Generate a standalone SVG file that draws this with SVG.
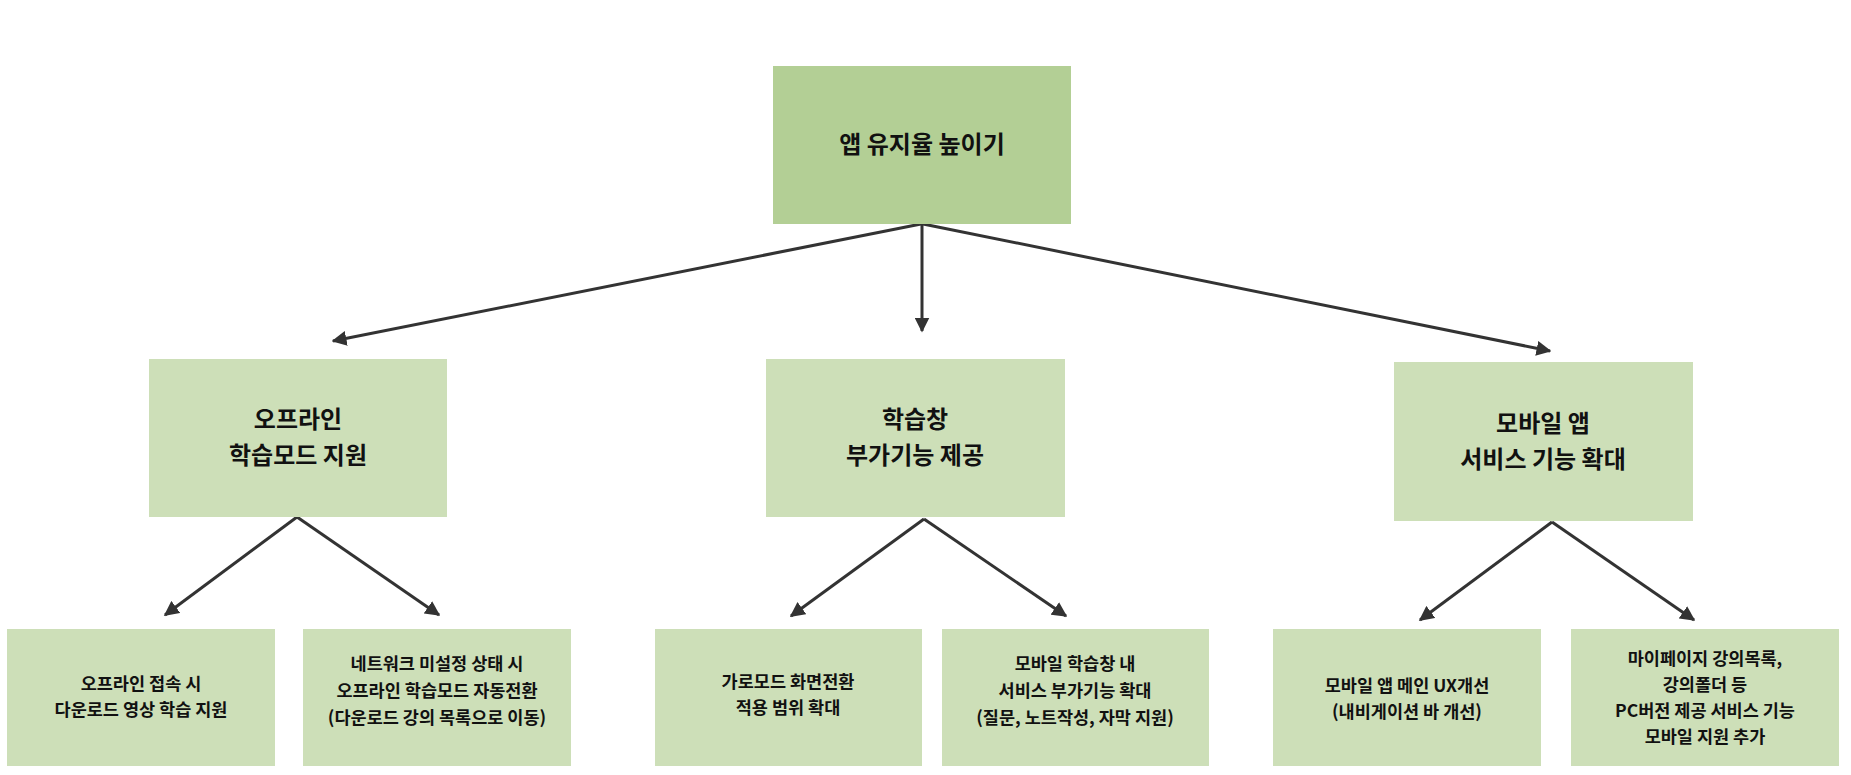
<svg xmlns="http://www.w3.org/2000/svg" width="1851" height="775" viewBox="0 0 1851 775">
<style>
.r{fill:#b3cf95}.n{fill:#cddfb8}
text{font-family:"Noto Sans CJK KR","Noto Sans",sans-serif;font-weight:bold;fill:#111;text-anchor:middle}
.t1{font-size:24px}.t2{font-size:17.5px}
.c{stroke:#333;stroke-width:3;fill:none;marker-end:url(#a)}
</style>
<defs><marker id="a" viewBox="0 0 10 10" refX="9" refY="5" markerWidth="5" markerHeight="5" orient="auto"><path d="M0,0L10,5L0,10z" fill="#333"/></marker></defs>
<g id="connectors">
<line class="c" x1="921" y1="224" x2="333" y2="341"/>
<line class="c" x1="922" y1="224" x2="922" y2="331"/>
<line class="c" x1="923" y1="224" x2="1550" y2="351"/>
<line class="c" x1="297" y1="517" x2="165" y2="615"/>
<line class="c" x1="297" y1="517" x2="439" y2="615"/>
<line class="c" x1="924" y1="519" x2="791" y2="616"/>
<line class="c" x1="924" y1="519" x2="1066" y2="616"/>
<line class="c" x1="1552" y1="522" x2="1420" y2="620"/>
<line class="c" x1="1552" y1="522" x2="1694" y2="620"/>
</g>
<g id="root"><rect class="r" x="773" y="66" width="298" height="158"/><text class="t1" x="922" y="153">앱 유지율 높이기</text></g>
<g id="n1"><rect class="n" x="149" y="359" width="298" height="158"/><text class="t1" x="298" y="428">오프라인</text><text class="t1" x="298" y="464">학습모드 지원</text></g>
<g id="n2"><rect class="n" x="766" y="359" width="299" height="158"/><text class="t1" x="915" y="428">학습창</text><text class="t1" x="915" y="464">부가기능 제공</text></g>
<g id="n3"><rect class="n" x="1394" y="362" width="299" height="159"/><text class="t1" x="1543" y="432">모바일 앱</text><text class="t1" x="1543" y="468">서비스 기능 확대</text></g>
<g id="n11"><rect class="n" x="7" y="629" width="268" height="137"/><text class="t2" x="141" y="690">오프라인 접속 시</text><text class="t2" x="141" y="716">다운로드 영상 학습 지원</text></g>
<g id="n12"><rect class="n" x="303" y="629" width="268" height="137"/><text class="t2" x="437" y="670">네트워크 미설정 상태 시</text><text class="t2" x="437" y="697">오프라인 학습모드 자동전환</text><text class="t2" x="437" y="724">(다운로드 강의 목록으로 이동)</text></g>
<g id="n21"><rect class="n" x="655" y="629" width="267" height="137"/><text class="t2" x="788" y="688">가로모드 화면전환</text><text class="t2" x="788" y="714">적용 범위 확대</text></g>
<g id="n22"><rect class="n" x="942" y="629" width="267" height="137"/><text class="t2" x="1075" y="670">모바일 학습창 내</text><text class="t2" x="1075" y="697">서비스 부가기능 확대</text><text class="t2" x="1075" y="724">(질문, 노트작성, 자막 지원)</text></g>
<g id="n31"><rect class="n" x="1273" y="629" width="268" height="137"/><text class="t2" x="1407" y="692">모바일 앱 메인 UX개선</text><text class="t2" x="1407" y="718">(내비게이션 바 개선)</text></g>
<g id="n32"><rect class="n" x="1571" y="629" width="268" height="137"/><text class="t2" x="1705" y="665">마이페이지 강의목록,</text><text class="t2" x="1705" y="691">강의폴더 등</text><text class="t2" x="1705" y="717">PC버전 제공 서비스 기능</text><text class="t2" x="1705" y="743">모바일 지원 추가</text></g>
</svg>
